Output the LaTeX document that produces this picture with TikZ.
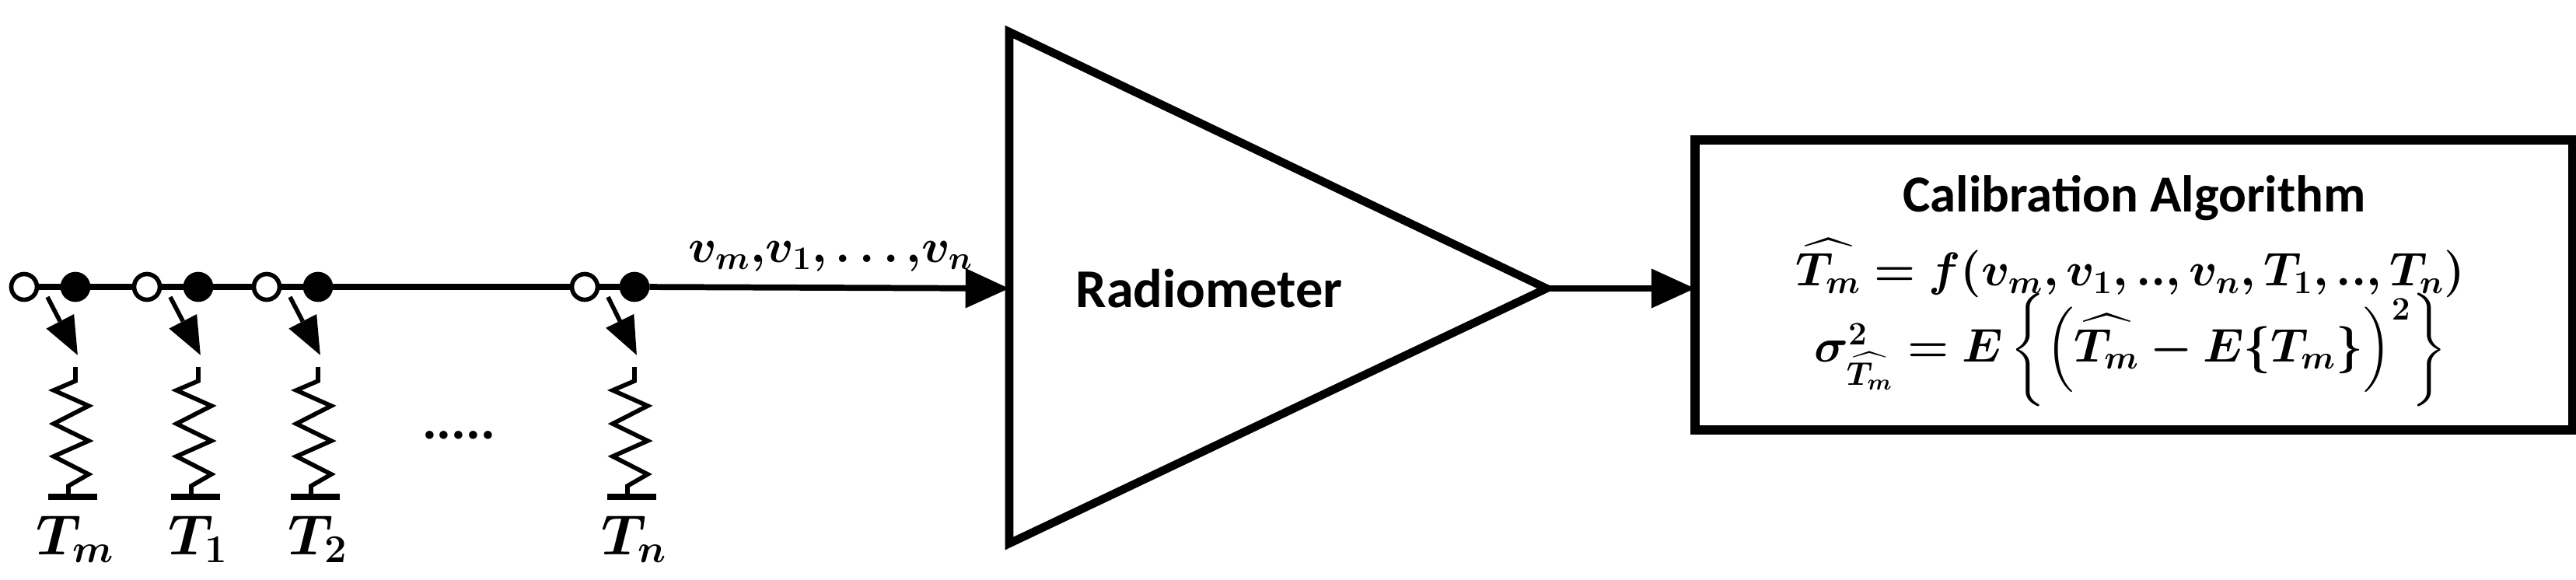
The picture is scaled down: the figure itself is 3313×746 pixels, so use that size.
\documentclass[tikz,border=0pt]{standalone}
\usepackage{amsmath,bm}
\usepackage{fontspec}
\setmainfont{Carlito}
\usetikzlibrary{arrows.meta}
\begin{document}
\begin{tikzpicture}[x=0.01cm,y=-0.01cm,
  wire/.style={line width=2.2pt},
  opensw/.style={draw,line width=1.6pt,fill=white,circle,minimum size=0.33cm,inner sep=0},
  closedsw/.style={draw,line width=1.6pt,fill=black,circle,minimum size=0.33cm,inner sep=0},
  lbl/.style={font=\fontsize{22}{24}\selectfont\bfseries\itshape},
  arr/.style={-{Triangle[length=16pt,width=14pt]}}]
\useasboundingbox (0,0) rectangle (3313,746);
% switches
\foreach \i/\xo/\xf/\lab in {a/31/97/m,b/189/255/1,c/343/409/2,d/752/816/n}{
  \node[opensw] (o\i) at (\xo,369) {};
  \node[closedsw] (f\i) at (\xf,369) {};
  \coordinate (s\i) at (\xo+30,382);
  \coordinate (e\i) at (\xf+3,457);
  \draw[line width=1.6pt,dash pattern=on 10pt off 6pt,-{Triangle[length=14pt,width=11pt]}] (s\i) -- (e\i);
  \coordinate (r\i) at (\xf,472);
  \coordinate (g\i) at (\xf-9,639);
  \draw[line width=1.6pt] (r\i) -- (\xf,490) -- (\xf-28,502) -- (\xf+17,522) -- (\xf-28,545) -- (\xf+17,567) -- (\xf-28,587) -- (\xf+17,610) -- (\xf-9,625) -- (g\i);
  \draw[line width=2.2pt] (\xf-35,639) -- (\xf+28,639);
  \node[lbl,anchor=base] (t\i) at (\xf,713) {$\bm{T_{\lab}}$};
}
\draw[wire] (oa) -- (fa) -- (ob) -- (fb) -- (oc) -- (fc) -- (od) -- (fd);
% amplifier
\coordinate (al) at (1298,41);
\coordinate (ab) at (1298,699);
\coordinate (tip) at (1989,371);
\draw[line width=3pt,line join=miter] (al) -- (tip) -- (ab) -- cycle;
\coordinate (ain) at (1298,371);
\draw[wire,arr] (fd) -- (ain);
\node[font=\fontsize{20}{22}\selectfont\bfseries] (rad) at (1555,371) {Radiometer};
\node[font=\fontsize{18}{20}\selectfont,anchor=south west,inner sep=0] (vl) at (885,350) {$\bm{v_m{,}v_1{,}\ldots{,}v_n}$};
\node[font=\fontsize{20}{22}\selectfont\bfseries] (dots) at (590,560) {.....};
% box
\draw[line width=3.5pt] (2180,180) rectangle (3309,553);
\coordinate (bw) at (2180,371);
\draw[line width=2pt,arr] (tip) -- (bw);
\node[font=\fontsize{19}{20}\selectfont\bfseries] (ttl) at (2745,255) {Calibration Algorithm};
\node[font=\fontsize{17}{18}\selectfont] (eq1) at (2740,345) {$\bm{\widehat{T_m}=f(v_m,v_1,..,v_n,T_1,..,T_n)}$};
\node[font=\fontsize{17}{18}\selectfont] (eq2) at (2740,450) {$\bm{\sigma^2_{\widehat{T_m}}=E\left\{\left(\widehat{T_m}-E\{T_m\}\right)^2\right\}}$};
\end{tikzpicture}
\end{document}
